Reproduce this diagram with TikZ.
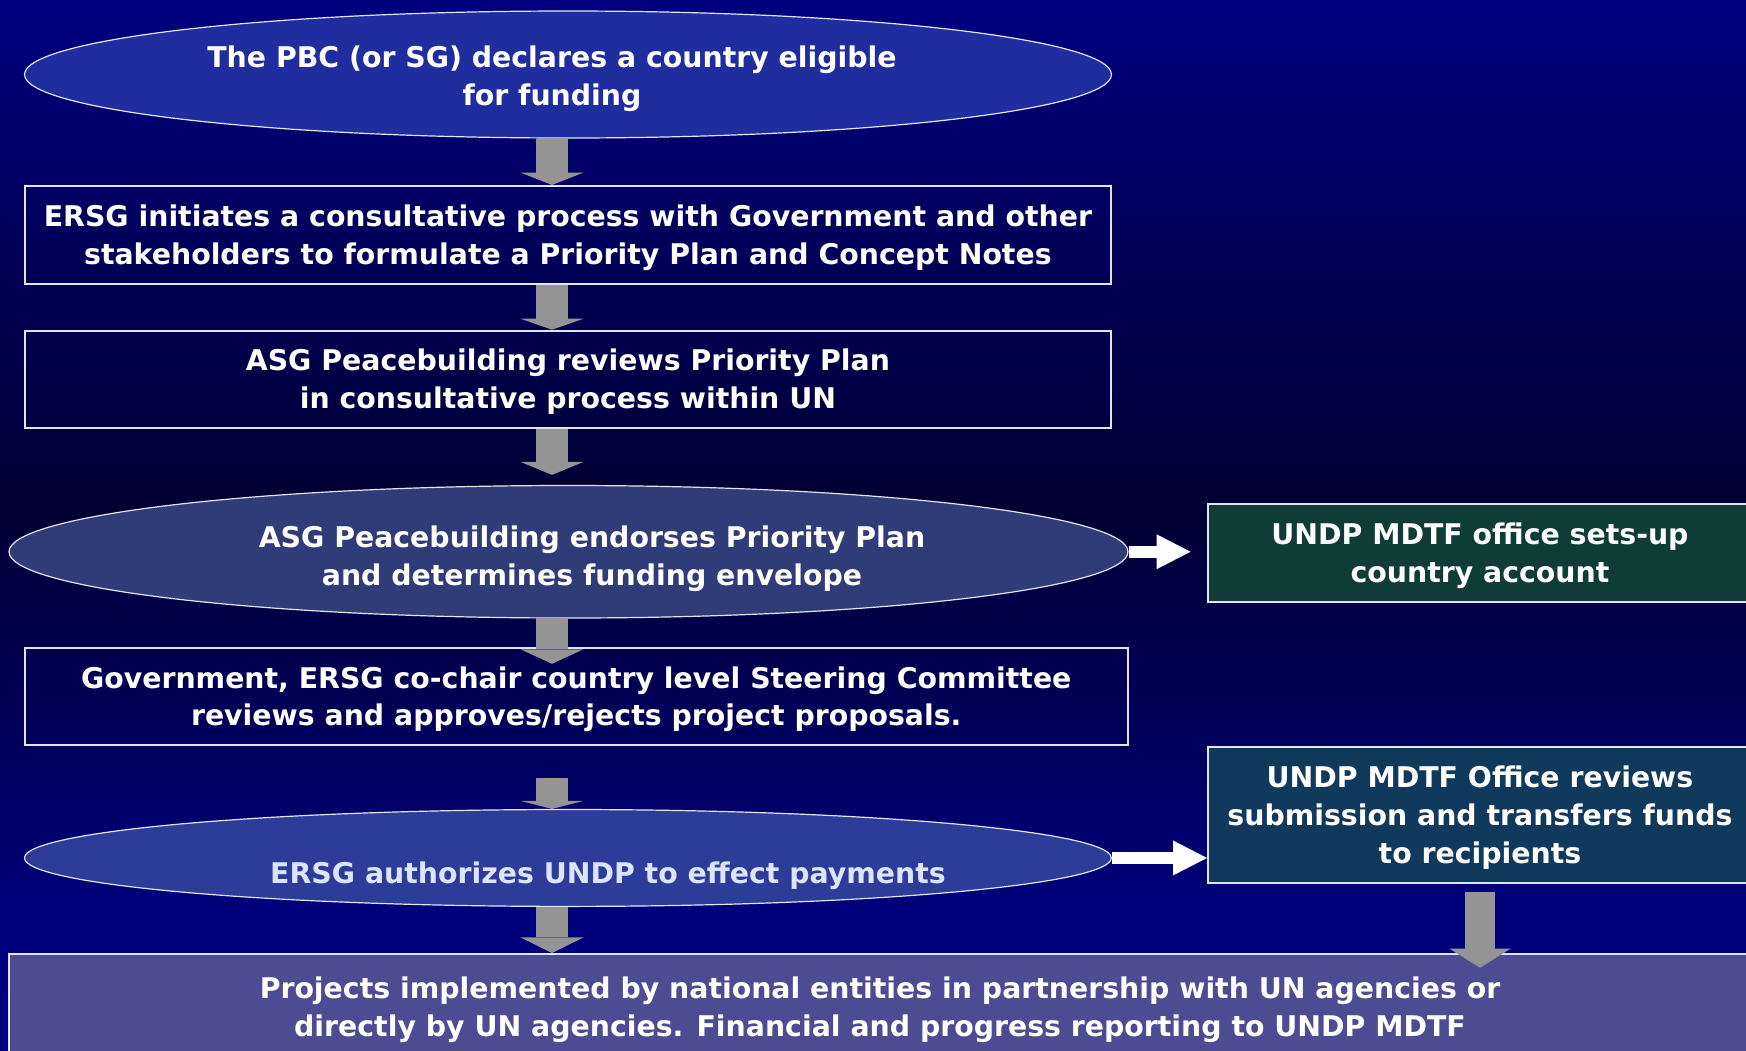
\documentclass[tikz,border=0pt]{standalone}
\usepackage{fontspec}
\newfontfamily\slidefont{DejaVu Sans}[FakeStretch=0.995]
\usetikzlibrary{shapes.geometric,arrows.meta}

\definecolor{ellA}{RGB}{31,45,158}
\definecolor{ellB}{RGB}{47,60,120}
\definecolor{ellC}{RGB}{44,60,152}
\definecolor{greenbox}{RGB}{16,60,56}
\definecolor{tealbox}{RGB}{17,57,92}
\definecolor{violetbox}{RGB}{76,76,146}
\definecolor{arrowgray}{RGB}{148,148,148}
\definecolor{edge}{RGB}{228,228,240}
\definecolor{paletext}{RGB}{220,228,255}

% background: navy at the top, darkest near the middle, navy again below
\pgfdeclareverticalshading{slidebg}{100bp}{%
  rgb(0bp)=(0,0,0.5); rgb(25bp)=(0,0,0.5); rgb(32bp)=(0,0,0.478);
  rgb(51bp)=(0,0,0.2); rgb(75bp)=(0,0,0.5); rgb(100bp)=(0,0,0.5)}

% one line of text with a fixed height and depth
\newcommand\lstrut{\rule[-8.45pt]{0pt}{37.9pt}}

\begin{document}
\begin{tikzpicture}[x=1pt,y=-1pt,
  font=\slidefont\bfseries\fontsize{28.5}{37.9}\selectfont,
  every node/.style={text=white, align=center, inner sep=0pt},
  oval/.style={ellipse, draw=edge, line width=1.2pt},
  stepbox/.style={rectangle, draw=edge, line width=2pt},
  downarrow/.style={draw=arrowgray, line width=31.6pt,
    -{Triangle[width=63pt,length=#1,line width=0pt]}},
  sidearrow/.style={draw=white, line width=12pt,
    -{Triangle[width=35pt,length=34pt,line width=0pt]}}]

\useasboundingbox (0,0) rectangle (1746,1050);
\clip (0,0) rectangle (1746,1050);
\shade[shading=slidebg] (0,0) rectangle (1746,1050);

% column of steps
\node[oval, fill=ellA, minimum width=1087pt, minimum height=127pt] (e1) at (568,74.5) {};
\node (e1t) at (552,75.7) {\lstrut The PBC (or SG) declares a country eligible\\\lstrut for funding};

\node[stepbox, minimum width=1086.8pt, minimum height=98pt] (b1) at (567.9,235)
  {\lstrut ERSG initiates a consultative process with Government and other\\
   \lstrut stakeholders to formulate a Priority Plan and Concept Notes};

\node[stepbox, minimum width=1086.8pt, minimum height=96.9pt] (b2) at (567.9,379.15)
  {\lstrut ASG Peacebuilding reviews Priority Plan\\\lstrut in consultative process within UN};

\node[oval, fill=ellB, minimum width=1119pt, minimum height=132.5pt] (e2) at (568.5,551.75) {};
\node (e2t) at (592,555.8) {\lstrut ASG Peacebuilding endorses Priority Plan\\\lstrut and determines funding envelope};

\node[stepbox, minimum width=1103.5pt, minimum height=97pt] (b5) at (576.25,696.5)
  {\lstrut Government, ERSG co-chair country level Steering Committee\\
   \lstrut reviews and approves/rejects project proposals.};

\node[oval, fill=ellC, minimum width=1086.8pt, minimum height=96.9pt] (e3) at (567.9,857.95) {};
\node[text=paletext] (e3t) at (608,873) {\lstrut ERSG authorizes UNDP to effect payments};

\node[stepbox, fill=violetbox, minimum width=1742pt, minimum height=106pt] (b7) at (880,1007)
  {\lstrut Projects implemented by national entities in partnership with UN agencies or\\
   \lstrut directly by UN agencies. Financial and progress reporting to UNDP MDTF};

% right-hand column
\node[stepbox, fill=greenbox, minimum width=544pt, minimum height=98pt] (g) at (1480,553.4)
  {\lstrut UNDP MDTF office sets-up\\\lstrut country account};

\node[stepbox, fill=tealbox, minimum width=544pt, minimum height=136pt] (b6) at (1480,815)
  {\lstrut UNDP MDTF Office reviews\\\lstrut submission and transfers funds\\\lstrut to recipients};

% connectors
\coordinate (ax) at (552,0);
\coordinate (a5s) at (552,778.3);

\draw[downarrow=12.4pt] (e1.south -| ax) -- (b1.north -| ax);
\draw[downarrow=11pt] (b1.south -| ax) -- (b2.north -| ax);
\draw[downarrow=13pt, shorten >=10pt] (b2.south -| ax) -- (e2.north -| ax);
\draw[downarrow=14.5pt, shorten >=-16.8pt] (e2.south -| ax) -- (b5.north -| ax);
\draw[downarrow=8pt] (a5s) -- (e3.north -| ax);
\draw[downarrow=15.6pt] (e3.south -| ax) -- (b7.north -| ax);
\draw[draw=arrowgray, line width=30pt, -{Triangle[width=61pt,length=19pt,line width=0pt]},
  shorten <=8pt, shorten >=-14.7pt] (b6.south) -- (b7.north -| b6.south);

\draw[sidearrow, shorten >=16.5pt] (e2.east) -- (e2.east -| g.west);
\draw[sidearrow] (e3.east) -- (e3.east -| b6.west);

\end{tikzpicture}
\end{document}
